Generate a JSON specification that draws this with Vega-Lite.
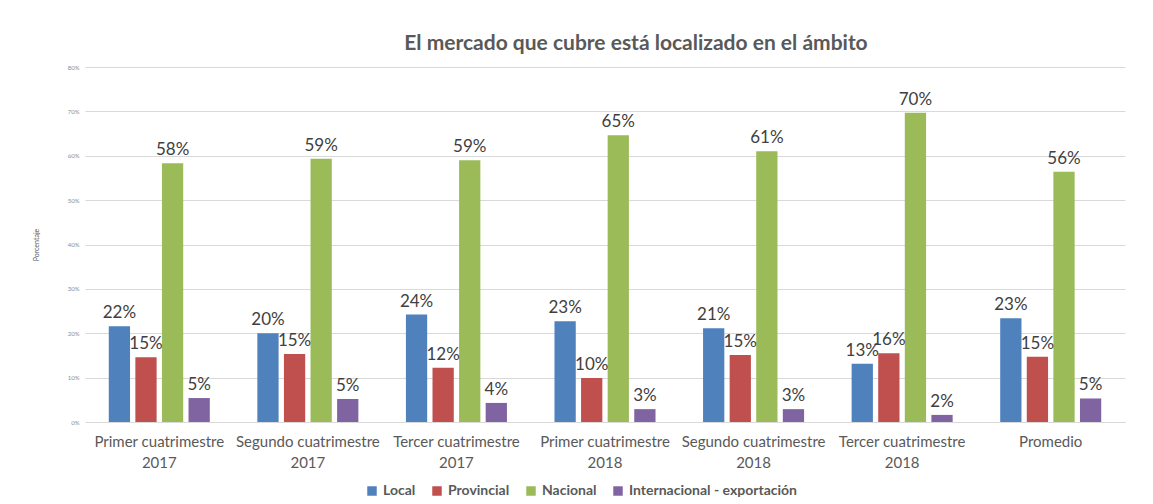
{
  "$schema": "https://vega.github.io/schema/vega-lite/v6.json",
  "width": 1040,
  "height": 355,
  "autosize": {"type": "none"},
  "padding": {"left": 85, "top": 67, "right": 28, "bottom": 82},
  "background": "white",
  "title": {
    "text": "El mercado que cubre está localizado en el ámbito",
    "font": "Lato",
    "fontSize": 21,
    "fontWeight": "bold",
    "color": "#595959",
    "anchor": "middle",
    "dx": 31,
    "offset": 10
  },
  "data": {
    "values": [
      {"periodo": "Primer cuatrimestre|2017", "ambito": "Local", "valor": 0.216},
      {"periodo": "Primer cuatrimestre|2017", "ambito": "Provincial", "valor": 0.146},
      {"periodo": "Primer cuatrimestre|2017", "ambito": "Nacional", "valor": 0.583},
      {"periodo": "Primer cuatrimestre|2017", "ambito": "Internacional - exportación", "valor": 0.054},
      {"periodo": "Segundo cuatrimestre|2017", "ambito": "Local", "valor": 0.200},
      {"periodo": "Segundo cuatrimestre|2017", "ambito": "Provincial", "valor": 0.153},
      {"periodo": "Segundo cuatrimestre|2017", "ambito": "Nacional", "valor": 0.593},
      {"periodo": "Segundo cuatrimestre|2017", "ambito": "Internacional - exportación", "valor": 0.052},
      {"periodo": "Tercer cuatrimestre|2017", "ambito": "Local", "valor": 0.242},
      {"periodo": "Tercer cuatrimestre|2017", "ambito": "Provincial", "valor": 0.122},
      {"periodo": "Tercer cuatrimestre|2017", "ambito": "Nacional", "valor": 0.590},
      {"periodo": "Tercer cuatrimestre|2017", "ambito": "Internacional - exportación", "valor": 0.043},
      {"periodo": "Primer cuatrimestre|2018", "ambito": "Local", "valor": 0.227},
      {"periodo": "Primer cuatrimestre|2018", "ambito": "Provincial", "valor": 0.099},
      {"periodo": "Primer cuatrimestre|2018", "ambito": "Nacional", "valor": 0.646},
      {"periodo": "Primer cuatrimestre|2018", "ambito": "Internacional - exportación", "valor": 0.029},
      {"periodo": "Segundo cuatrimestre|2018", "ambito": "Local", "valor": 0.211},
      {"periodo": "Segundo cuatrimestre|2018", "ambito": "Provincial", "valor": 0.151},
      {"periodo": "Segundo cuatrimestre|2018", "ambito": "Nacional", "valor": 0.610},
      {"periodo": "Segundo cuatrimestre|2018", "ambito": "Internacional - exportación", "valor": 0.029},
      {"periodo": "Tercer cuatrimestre|2018", "ambito": "Local", "valor": 0.131},
      {"periodo": "Tercer cuatrimestre|2018", "ambito": "Provincial", "valor": 0.155},
      {"periodo": "Tercer cuatrimestre|2018", "ambito": "Nacional", "valor": 0.697},
      {"periodo": "Tercer cuatrimestre|2018", "ambito": "Internacional - exportación", "valor": 0.016},
      {"periodo": "Promedio", "ambito": "Local", "valor": 0.234},
      {"periodo": "Promedio", "ambito": "Provincial", "valor": 0.147},
      {"periodo": "Promedio", "ambito": "Nacional", "valor": 0.564},
      {"periodo": "Promedio", "ambito": "Internacional - exportación", "valor": 0.053}
    ]
  },
  "encoding": {
    "x": {
      "field": "periodo",
      "type": "nominal",
      "sort": null,
      "scale": {"paddingInner": 0.32, "paddingOuter": 0.16},
      "axis": {
        "title": null,
        "labelAngle": 0,
        "labelExpr": "split(datum.label, '|')",
        "labelFont": "Lato",
        "labelFontSize": 15,
        "labelColor": "#595959",
        "labelPadding": 12,
        "labelLineHeight": 21,
        "labelLimit": 0,
        "domain": true,
        "domainColor": "#d9d9d9",
        "ticks": false
      }
    },
    "xOffset": {
      "field": "ambito",
      "type": "nominal",
      "sort": ["Local", "Provincial", "Nacional", "Internacional - exportación"],
      "scale": {"paddingInner": 0.2}
    },
    "y": {
      "field": "valor",
      "type": "quantitative",
      "scale": {"domain": [0, 0.8]},
      "axis": {
        "title": "Porcentaje",
        "titleFont": "Lato",
        "titleFontSize": 7,
        "titleFontWeight": "normal",
        "titleColor": "#595959",
        "titlePadding": 28,
        "format": ".0%",
        "tickCount": 8,
        "labelFont": "Lato",
        "labelFontSize": 6,
        "labelColor": "#8c8c8c",
        "labelPadding": 6,
        "domain": false,
        "ticks": false,
        "gridColor": "#d9d9d9",
        "gridWidth": 1
      }
    }
  },
  "layer": [
    {
      "mark": {"type": "bar"},
      "encoding": {
        "color": {
          "field": "ambito",
          "type": "nominal",
          "sort": ["Local", "Provincial", "Nacional", "Internacional - exportación"],
          "scale": {
            "domain": ["Local", "Provincial", "Nacional", "Internacional - exportación"],
            "range": ["#4f81bd", "#c0504d", "#9bbb59", "#8064a2"]
          },
          "legend": {
            "title": null,
            "orient": "none",
            "direction": "horizontal",
            "legendX": 280,
            "legendY": 417,
            "symbolType": "square",
            "symbolSize": 90,
            "symbolStrokeWidth": 0,
            "labelFont": "Lato",
            "labelFontSize": 14,
            "labelFontWeight": "bold",
            "labelColor": "#595959",
            "labelLimit": 0,
            "columnPadding": 14,
            "symbolOffset": 0
          }
        }
      }
    },
    {
      "mark": {
        "type": "text",
        "baseline": "bottom",
        "dy": -4,
        "font": "Lato",
        "fontSize": 17,
        "color": "#404040"
      },
      "encoding": {
        "text": {"field": "valor", "type": "quantitative", "format": ".0%"}
      }
    }
  ],
  "config": {
    "view": {"stroke": null}
  }
}
